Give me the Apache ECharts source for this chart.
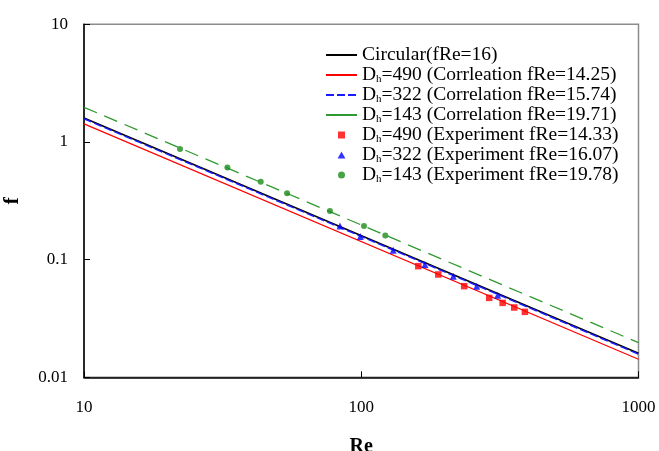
<!DOCTYPE html>
<html>
<head>
<meta charset="utf-8">
<script src="https://cdn.jsdelivr.net/npm/echarts@6/dist/echarts.min.js"></script>
<style>
	html, body { margin: 0; padding: 0; background: #fff; }
	#chart { width: 659px; height: 451px; }
</style>
</head>
<body>
<div id="chart"></div>
<script>
// axis range (log)
const reRange = [10, 1000];
const fRange = [0.01, 10];

// correlation constants fRe
const fReCircular = 16;
const fRe490 = 14.25;
const fRe322 = 15.74;
const fRe143 = 19.71;

// experiment points
const re490 = [160.6, 189.6, 235.1, 289.4, 323.6, 356.3, 389.3];
const f490 = [0.088, 0.0748, 0.0595, 0.0473, 0.0429, 0.0392, 0.036];
const re322 = [83.8, 99.2, 130.4, 169.7, 214.7, 260.8, 310.4];
const f322 = [0.1927, 0.1575, 0.1204, 0.091, 0.0724, 0.0595, 0.0499];
const re143 = [22.2, 32.9, 43.4, 54.0, 77.1, 102.3, 122.1];
const f143 = [0.87, 0.608, 0.459, 0.366, 0.2585, 0.1927, 0.1606];

const names = [
	'Circular(fRe=16)',
	'D{sub|h}=490 (Corrleation fRe=14.25)',
	'D{sub|h}=322 (Correlation fRe=15.74)',
	'D{sub|h}=143 (Correlation fRe=19.71)',
	'D{sub|h}=490 (Experiment fRe=14.33)',
	'D{sub|h}=322 (Experiment fRe=16.07)',
	'D{sub|h}=143 (Experiment fRe=19.78)',
];

const font = 'Liberation Serif';
const lineOf = (c) => reRange.map((re) => [re, c / re]);
const pointsOf = (xs, ys) => xs.map((x, i) => [x, ys[i]]);
const fmt = (v) => String(+(+v).toPrecision(6));
// hide the dot ECharts puts in the middle of line legend icons
const noDot = { opacity: 0 };

const chart = echarts.init(document.getElementById('chart'));
const option = {
	animation: false,
	textStyle: { fontFamily: font },
	grid: {
		left: 84,
		right: 20.5,
		top: 24.3,
		bottom: 73.7,
		outerBoundsMode: 'none',
		show: true,
		borderColor: '#8c8c8c',
		borderWidth: 1.5,
	},
	legend: {
		orient: 'vertical',
		left: 325,
		top: 45,
		padding: 0,
		itemWidth: 31,
		itemHeight: 7,
		itemGap: 0,
		textStyle: {
			fontFamily: font,
			fontSize: 19.5,
			color: '#000',
			lineHeight: 19.7,
			rich: {
				sub: { fontFamily: font, fontSize: 11, lineHeight: 13, verticalAlign: 'bottom', padding: [4, 0, 0, 0] },
			},
		},
		data: [
			{ name: names[0], itemStyle: noDot },
			{ name: names[1], itemStyle: noDot },
			{ name: names[2], itemStyle: noDot },
			{ name: names[3], itemStyle: noDot, lineStyle: { type: 'solid' } },
			{ name: names[4], icon: 'path://M0,0H10V10H0Z' },
			{ name: names[5], icon: 'path://M5,0L10,9L0,9Z' },
			{ name: names[6], icon: 'circle' },
		],
	},
	xAxis: {
		type: 'log',
		logBase: 10,
		min: reRange[0],
		max: reRange[1],
		name: 'Re',
		nameLocation: 'middle',
		nameGap: 60,
		nameTextStyle: { fontFamily: font, fontSize: 20, fontWeight: 'bold', color: '#000' },
		axisLine: { lineStyle: { color: '#000', width: 1.5 } },
		axisTick: { inside: true, length: 6, lineStyle: { color: '#000' } },
		minorTick: { show: false },
		splitLine: { show: false },
		axisLabel: { fontFamily: font, fontSize: 17, color: '#000', margin: 22, formatter: fmt },
	},
	yAxis: {
		type: 'log',
		logBase: 10,
		min: fRange[0],
		max: fRange[1],
		name: 'f',
		nameLocation: 'middle',
		nameGap: 61,
		nameTextStyle: { fontFamily: font, fontSize: 22, fontWeight: 'bold', color: '#000' },
		axisLine: { lineStyle: { color: '#000', width: 1.5 } },
		axisTick: { inside: true, length: 6, lineStyle: { color: '#000' } },
		splitLine: { show: false },
		axisLabel: { fontFamily: font, fontSize: 17, color: '#000', margin: 16, formatter: fmt },
	},
	series: [
		{
			name: names[0], type: 'line', symbol: 'none', z: 3,
			lineStyle: { color: '#000', width: 1.5 }, itemStyle: { color: '#000' },
			data: lineOf(fReCircular),
		},
		{
			name: names[1], type: 'line', symbol: 'none', z: 2,
			lineStyle: { color: '#ff0000', width: 1.2 }, itemStyle: { color: '#ff0000' },
			data: lineOf(fRe490),
		},
		{
			name: names[2], type: 'line', symbol: 'none', z: 4,
			lineStyle: { color: '#1a1aff', width: 1.5, type: [8, 3] }, itemStyle: { color: '#1a1aff' },
			data: lineOf(fRe322),
		},
		{
			name: names[3], type: 'line', symbol: 'none', z: 2,
			lineStyle: { color: '#2f9a2f', width: 1.3, type: [14, 8] }, itemStyle: { color: '#2f9a2f' },
			data: lineOf(fRe143),
		},
		{
			name: names[4], type: 'scatter', symbol: 'rect', symbolSize: 6.5, z: 5,
			itemStyle: { color: '#ff0000' },
			data: pointsOf(re490, f490),
		},
		{
			name: names[5], type: 'scatter', symbol: 'triangle', symbolSize: 7, z: 5,
			itemStyle: { color: '#0000ff' },
			data: pointsOf(re322, f322),
		},
		{
			name: names[6], type: 'scatter', symbol: 'circle', symbolSize: 6, z: 5,
			itemStyle: { color: '#1a8c1a' },
			data: pointsOf(re143, f143),
		},
	],
};
chart.setOption(option);
</script>
</body>
</html>
